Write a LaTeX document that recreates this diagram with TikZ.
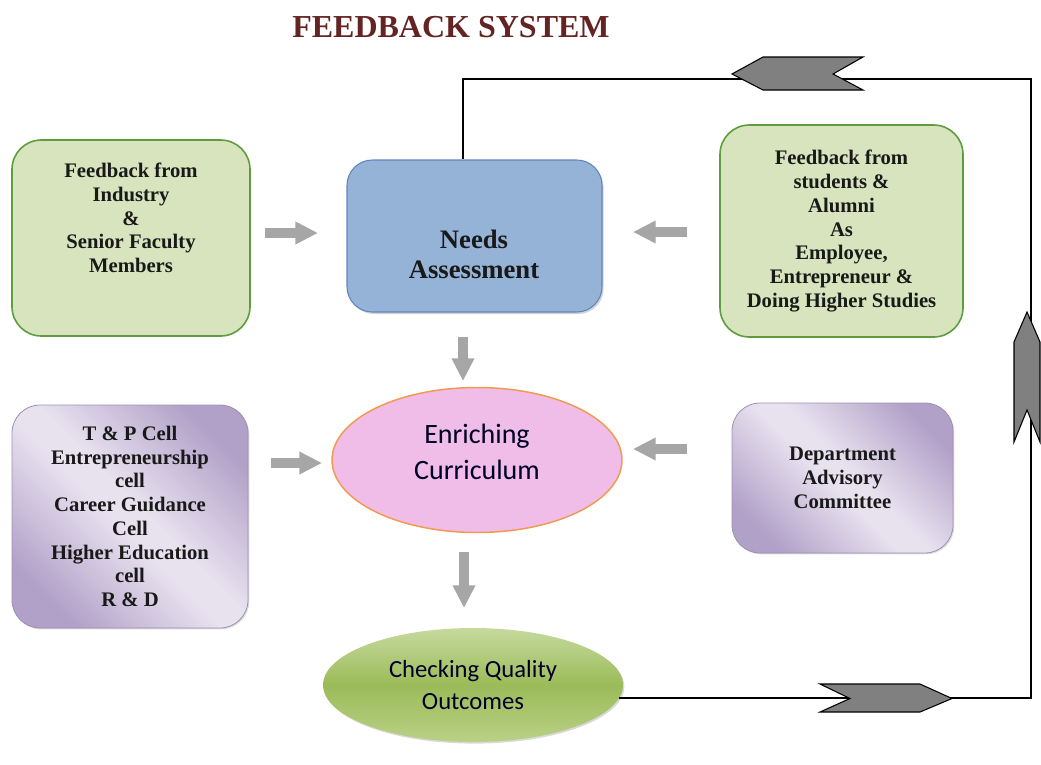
\documentclass[tikz,border=0pt]{standalone}
\usepackage{fontspec}
\setmainfont{Liberation Serif}
\newfontfamily\calib{Carlito}
\usetikzlibrary{arrows.meta,shapes.geometric,shadows}
\definecolor{titlered}{HTML}{632423}
\definecolor{gfill}{HTML}{D7E4BD}
\definecolor{gborder}{HTML}{5E9C3E}
\definecolor{bfill}{HTML}{95B3D7}
\definecolor{bborder}{HTML}{5F86BE}
\definecolor{pfill}{HTML}{F0BCE8}
\definecolor{pborder}{HTML}{F09A50}
\definecolor{purpD}{HTML}{B1A0C7}
\definecolor{purpL}{HTML}{E8E2EF}
\definecolor{gTop}{HTML}{C6DA9E}
\definecolor{gMid}{HTML}{9BBB59}
\definecolor{gBot}{HTML}{B9D186}
\definecolor{arrowgray}{HTML}{A6A6A6}
\definecolor{chevgray}{HTML}{808080}
\pgfdeclarehorizontalshading{purpdiag}{100bp}{color(0bp)=(purpD); color(32bp)=(purpD); color(48bp)=(purpL); color(52bp)=(purpL); color(68bp)=(purpD); color(100bp)=(purpD)}
\tikzset{
  boxtext/.style={font=\fontsize{15.5}{17.8}\selectfont\bfseries, align=center, text=black!90},
  greenbox/.style={draw=gborder, line width=1.2pt, fill=gfill, rounded corners=22pt, inner sep=0pt, boxtext},
  purpbox/.style={draw=purpD!90!black, line width=0.6pt, fill=purpD, rounded corners=21pt, inner sep=0pt, boxtext,
     drop shadow={shadow xshift=1pt, shadow yshift=-1pt, opacity=.25},
     path picture={\shade[shading=purpdiag, shading angle=45] (path picture bounding box.center) circle (#1);}},
  grayarrow/.style={draw=arrowgray, line width=7.5pt, -{Triangle[length=17pt,width=16pt]}},
  fbline/.style={draw=black, line width=1.1pt},
  chevron/.style={fill=chevgray, draw=black, line width=0.8pt, line join=miter},
  elltext/.style={align=center, text=black!85!blue, inner sep=0pt},
}
\begin{document}
\begin{tikzpicture}[x=0.75pt, y=-0.75pt]
\useasboundingbox (0,0) rectangle (1041,764);

% title
\node[font=\fontsize{24}{28}\selectfont\bfseries, text=titlered, inner sep=0pt] (title) at (451,27) {FEEDBACK SYSTEM};

% boxes
\node[greenbox, minimum width=178.5pt, minimum height=147pt] (fi) at (131,238) {};
\node[boxtext, inner sep=0pt] (fitext) at (131,218)
  {Feedback from\\Industry\\\&\\Senior Faculty\\Members};

\node[draw=bborder, line width=0.8pt, fill=bfill, rounded corners=19pt, minimum width=191.25pt, minimum height=114pt,
  drop shadow={shadow xshift=1.2pt, shadow yshift=-1.5pt, opacity=.35}] (na) at (474.5,236) {};
\node[font=\fontsize{20}{22.5}\selectfont\bfseries, align=center, text=black!90, inner sep=0pt] (natext) at (474,254) {Needs\\Assessment};

\node[greenbox, minimum width=182.25pt, minimum height=159pt] (fs) at (841.5,231)
  {Feedback from\\students \&\\Alumni\\As\\Employee,\\Entrepreneur \&\\Doing Higher Studies};

\node[ellipse, draw=pborder, line width=1.1pt, fill=pfill, minimum width=217.5pt, minimum height=108.75pt, inner sep=0pt] (ec) at (477,460) {};
\node[elltext, font=\calib\fontsize{21}{27}\selectfont] (ectext) at (477,451.5) {Enriching\\Curriculum};

\node[purpbox=123pt, minimum width=177pt, minimum height=167.25pt] (tp) at (130,516.5)
  {T \& P Cell\\Entrepreneurship\\cell\\Career Guidance\\Cell\\Higher Education\\cell\\R \& D};

\node[purpbox=101pt, minimum width=165.75pt, minimum height=112.5pt] (dac) at (842.5,478)
  {Department\\Advisory\\Committee};

\node[ellipse, draw=none, top color=gTop, bottom color=gBot, middle color=gMid, minimum width=225pt, minimum height=85.5pt, inner sep=0pt,
  font=\calib\fontsize{18.5}{24}\selectfont, align=center, text=black!85!blue,
  drop shadow={shadow xshift=1pt, shadow yshift=-1.2pt, opacity=.3}] (co) at (473,685)
  {Checking Quality\\Outcomes};

% gray arrows
\coordinate (a1s) at (265,233); \coordinate (a1e) at (318,233);
\coordinate (a2s) at (687,232); \coordinate (a2e) at (633,232);
\coordinate (a3s) at (463,337); \coordinate (a3e) at (463,381);
\coordinate (a4s) at (271,463); \coordinate (a4e) at (322,463);
\coordinate (a5s) at (687,449); \coordinate (a5e) at (633,449);
\coordinate (a6s) at (464,552); \coordinate (a6e) at (464,608);
\draw[grayarrow] (a1s) -- (a1e);
\draw[grayarrow] (a2s) -- (a2e);
\draw[grayarrow] (a3s) -- (a3e);
\draw[grayarrow] (a4s) -- (a4e);
\draw[grayarrow] (a5s) -- (a5e);
\draw[grayarrow] (a6s) -- (a6e);

% feedback loop line
\coordinate (c1) at (1031,699);
\coordinate (c2) at (1031,79);
\coordinate (c3) at (463,79);
\draw[fbline] (co.-5.5) -- (co.-5.5 -| c1) -- (c2) -- (c3) -- (c3 |- na.north);

% chevrons
\draw[chevron] (820,684) -- (920,684) -- (952,698.5) -- (920,712) -- (820,712) -- (850,698.5) -- cycle;
\draw[chevron] (863,57) -- (763,57) -- (732,74) -- (763,90) -- (863,90) -- (833,74) -- cycle;
\draw[chevron] (1027,312) -- (1040,342) -- (1040,442) -- (1027,410) -- (1014,442) -- (1014,342) -- cycle;
\end{tikzpicture}
\end{document}
